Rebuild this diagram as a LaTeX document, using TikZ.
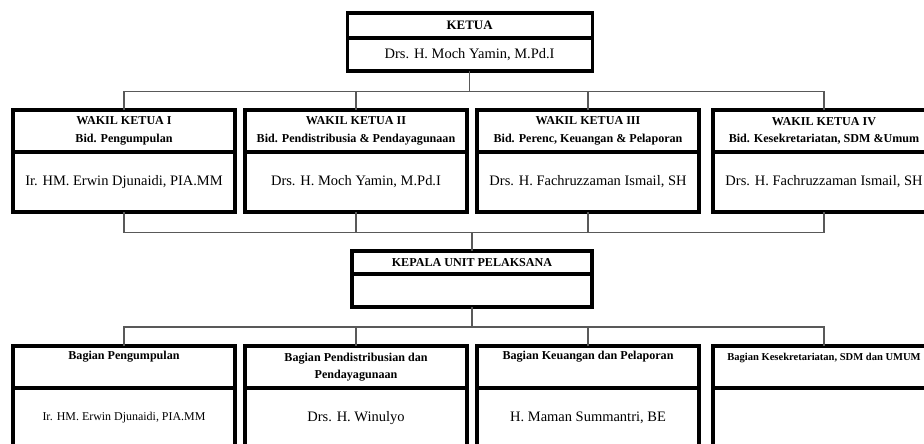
\documentclass[tikz,border=0pt]{standalone}
\usepackage{fontspec}
\setmainfont{Liberation Serif}
\usetikzlibrary{positioning}

\begin{document}
\begin{tikzpicture}[
  node distance=0pt,
  headbox/.style={rectangle, draw, line width=2.2pt, inner sep=1pt, outer sep=0pt,
    minimum width=#1, minimum height=1.05cm, align=center,
    font=\fontsize{8.6}{12.6}\selectfont\bfseries},
  headbox/.default=5.55cm,
  namebox/.style={rectangle, draw, line width=2.2pt, inner sep=1pt, outer sep=0pt,
    minimum width=#1, minimum height=1.5cm, align=center,
    font=\fontsize{10.3}{12.4}\selectfont},
  namebox/.default=5.55cm,
  conn/.style={draw=black!65, line width=0.8pt}
]
\useasboundingbox (0,0) rectangle (23.1,-11.075);
\clip (0,0) rectangle (23.1,-11.075);

% Ketua
\node[headbox=6.125cm, minimum height=0.625cm, anchor=north,
  font=\fontsize{9.2}{11}\selectfont\bfseries] (ketua) at (11.74,-0.325) {KETUA};
\node[namebox=6.125cm, minimum height=0.825cm, below=of ketua] (ketuaN) {Drs. H. Moch Yamin, M.Pd.I};

% Wakil ketua
\node[headbox, anchor=north] (wk1) at (3.1,-2.75) {WAKIL KETUA I\\Bid. Pengumpulan};
\node[namebox, below=of wk1] (wk1N) {Ir. HM. Erwin Djunaidi, PIA.MM};
\node[headbox, anchor=north] (wk2) at (8.9,-2.75) {WAKIL KETUA II\\Bid. Pendistribusia \& Pendayagunaan};
\node[namebox, below=of wk2] (wk2N) {Drs. H. Moch Yamin, M.Pd.I};
\node[headbox, anchor=north] (wk3) at (14.7,-2.75) {WAKIL KETUA III\\Bid. Perenc, Keuangan \& Pelaporan};
\node[namebox, below=of wk3] (wk3N) {Drs. H. Fachruzzaman Ismail, SH};
\node[headbox, anchor=north] (wk4) at (20.6,-2.75) {WAKIL KETUA IV\\Bid. Kesekretariatan, SDM \&Umum};
\node[namebox, below=of wk4] (wk4N) {Drs. H. Fachruzzaman Ismail, SH};

% Kepala unit
\node[headbox=6cm, minimum height=0.575cm, anchor=north] (kepala) at (11.8,-6.275) {KEPALA UNIT PELAKSANA};
\node[namebox=6cm, minimum height=0.825cm, below=of kepala] (kepalaN) {};

% Bagian
\node[headbox, anchor=north] (bg1) at (3.1,-8.65) {Bagian Pengumpulan\\\strut};
\node[namebox, below=of bg1, font=\fontsize{8.5}{11}\selectfont] (bg1N) {Ir. HM. Erwin Djunaidi, PIA.MM};
\node[headbox, anchor=north] (bg2) at (8.9,-8.65) {Bagian Pendistribusian dan\\Pendayagunaan};
\node[namebox, below=of bg2] (bg2N) {Drs. H. Winulyo};
\node[headbox, anchor=north] (bg3) at (14.7,-8.65) {Bagian Keuangan dan Pelaporan\\\strut};
\node[namebox, below=of bg3] (bg3N) {H. Maman Summantri, BE};
\node[headbox, anchor=north, font=\fontsize{7.5}{11}\selectfont\bfseries] (bg4) at (20.6,-8.65) {Bagian Kesekretariatan, SDM dan UMUM\\\strut};
\node[namebox, below=of bg4] (bg4N) {};

% Lines: ketua -> wakil ketua
\draw[conn] (ketuaN.south) -- ++(0,-0.515) coordinate (busA);
\draw[conn] (wk1.north) |- (busA) -| (wk4.north);
\draw[conn] (wk2.north) -- (wk2.north |- busA);
\draw[conn] (wk3.north) -- (wk3.north |- busA);

% Lines: wakil ketua -> kepala unit
\draw[conn] (kepala.north) -- ++(0,0.465) coordinate (busB);
\draw[conn] (wk1N.south) |- (busB) -| (wk4N.south);
\draw[conn] (wk2N.south) -- (wk2N.south |- busB);
\draw[conn] (wk3N.south) -- (wk3N.south |- busB);

% Lines: kepala unit -> bagian
\draw[conn] (kepalaN.south) -- ++(0,-0.5) coordinate (busC);
\draw[conn] (bg1.north) |- (busC) -| (bg4.north);
\draw[conn] (bg2.north) -- (bg2.north |- busC);
\draw[conn] (bg3.north) -- (bg3.north |- busC);

\end{tikzpicture}
\end{document}
